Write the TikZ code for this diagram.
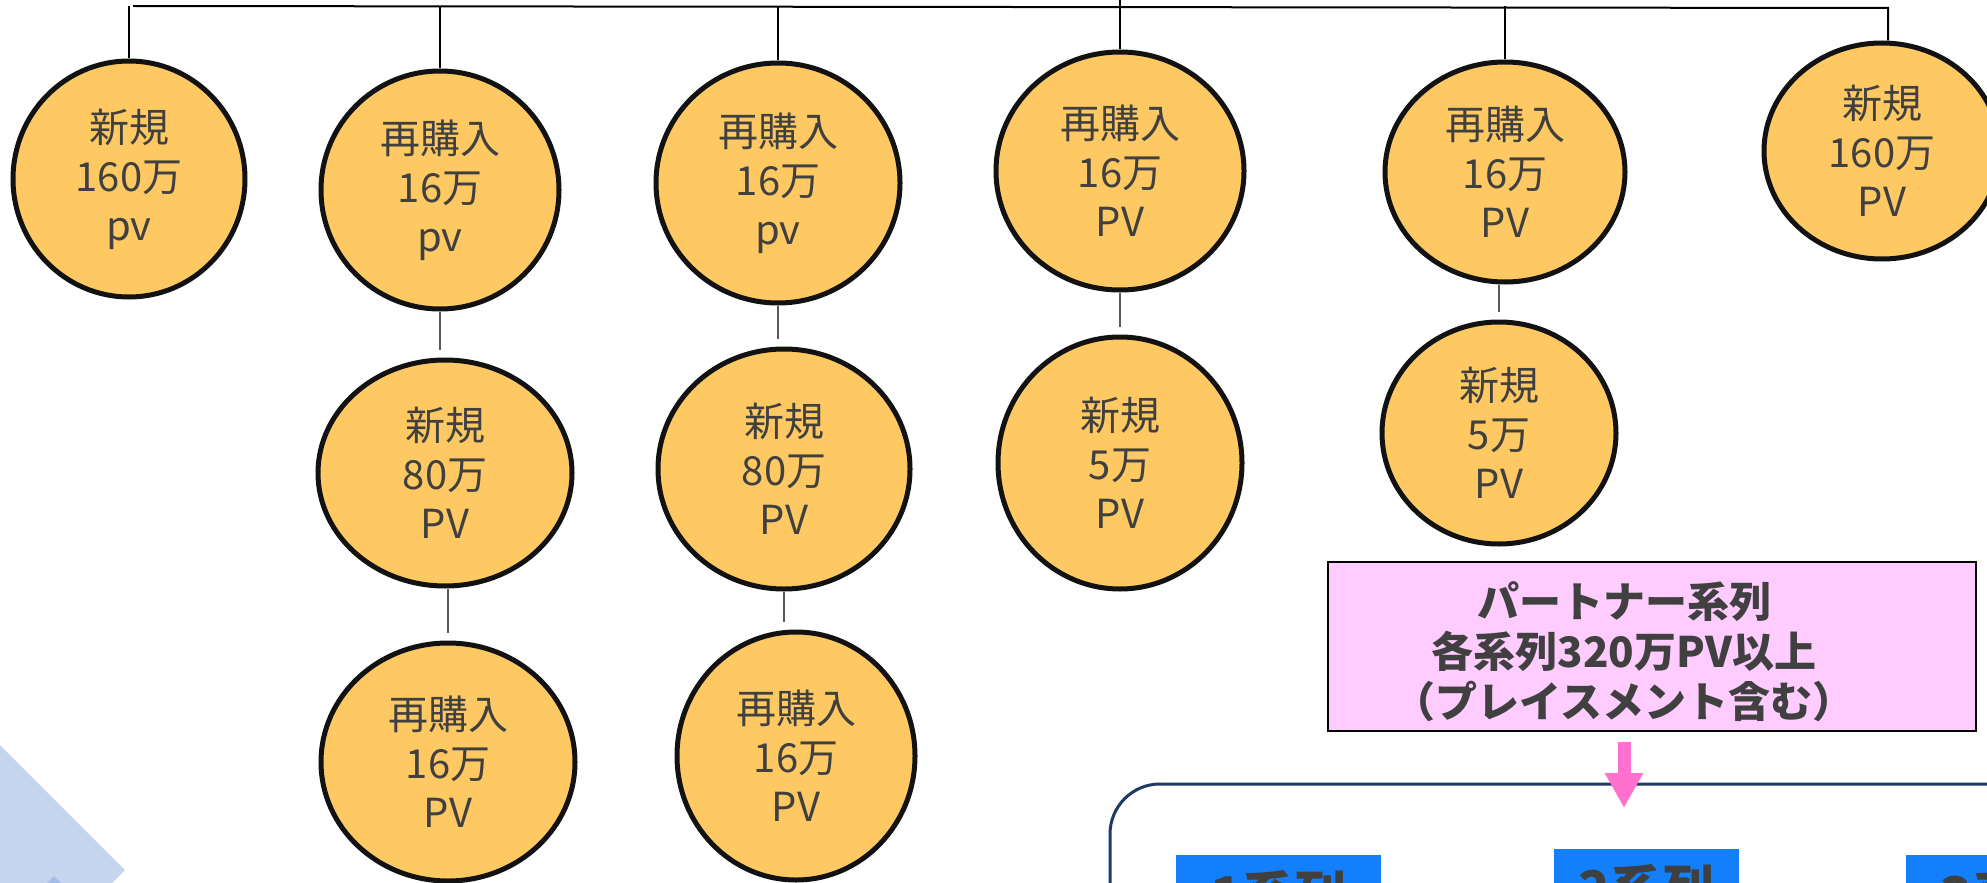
\documentclass[tikz,border=0pt]{standalone}
\usepackage{fontspec}
\newfontfamily\jp{Noto Sans CJK JP}
\usetikzlibrary{shapes.geometric,arrows.meta}
\definecolor{eggfill}{HTML}{FEC962}
\definecolor{txtgray}{HTML}{404040}
\definecolor{pinkfill}{HTML}{FFCCFF}
\definecolor{pinkarrow}{HTML}{FF70CF}
\definecolor{navyline}{HTML}{1F3864}
\definecolor{bluebox}{HTML}{147FFB}
\definecolor{lightblue}{HTML}{C6D5EE}
\definecolor{midblue}{HTML}{A4BDE6}
\begin{document}
\begin{tikzpicture}[x=0.5pt,y=-0.5pt,
  egg/.style={ellipse, draw=black!93, line width=2.5pt, fill=eggfill, inner sep=0pt,
    align=center, text=txtgray, font=\jp\fontsize{20}{24.5}\selectfont},
  bus/.style={draw=black, line width=1pt},
  link/.style={draw=black!65, line width=0.7pt, shorten >=4pt},
  pbox/.style={rectangle, draw=black, line width=1.2pt, fill=pinkfill, inner sep=0pt},
  ptext/.style={align=center, text=txtgray, inner sep=0pt, font=\jp\bfseries\fontsize{21}{25}\selectfont},
  parrow/.style={draw=pinkarrow, line width=6.5pt, shorten <=5pt, -{Triangle[width=18pt,length=17.5pt]}},
  container/.style={rectangle, draw=navyline, line width=1.5pt, rounded corners=25pt, inner sep=0pt},
  bbox/.style={rectangle, fill=bluebox, anchor=north, inner xsep=0pt, inner ysep=7.5pt,
    text=txtgray, font=\jp\bfseries\fontsize{26}{30}\selectfont}
]
\useasboundingbox (0,0) rectangle (1987,883);
\clip (0,0) rectangle (1987,883);

% decorative shape bottom left
\fill[lightblue] (0,745) -- (125,870) -- (112,883) -- (0,883) -- cycle;
\fill[midblue] (47,883) -- (54,876) -- (61,883) -- cycle;

% ellipses
\node[egg, minimum width=116pt, minimum height=118pt] (E1) at (129,179) {新規\\160万\\pv};
\node[egg, minimum width=119pt, minimum height=119pt] (E2) at (440,190) {再購入\\16万\\pv};
\node[egg, minimum width=122pt, minimum height=120pt] (E3) at (778,183) {再購入\\16万\\pv};
\node[egg, minimum width=124pt, minimum height=119pt] (E4) at (1120,171) {再購入\\16万\\PV};
\node[egg, minimum width=120pt, minimum height=110pt] (E5) at (1505,172) {再購入\\16万\\PV};
\node[egg, minimum width=118pt, minimum height=108pt] (E6) at (1882,151) {新規\\160万\\PV};
\node[egg, minimum width=127pt, minimum height=113pt] (E7) at (445,473) {新規\\80万\\PV};
\node[egg, minimum width=126pt, minimum height=120pt] (E8) at (784,469) {新規\\80万\\PV};
\node[egg, minimum width=122pt, minimum height=126pt] (E9) at (1120,463) {新規\\5万\\PV};
\node[egg, minimum width=117pt, minimum height=111pt] (E10) at (1499,433) {新規\\5万\\PV};
\node[egg, minimum width=127pt, minimum height=119pt] (E11) at (448,762) {再購入\\16万\\PV};
\node[egg, minimum width=119pt, minimum height=124pt] (E12) at (796,756) {再購入\\16万\\PV};

% top bus
\coordinate (busL) at (133,6);
\coordinate (busR) at (1888,8);
\coordinate (topedge) at (1115,0);
\draw[bus] (busL) -- (busR) -- (busR |- E6.north);
\draw[bus] (E1.north) -- (E1.north |- busL);
\draw[bus] (E2.north) -- (E2.north |- busL);
\draw[bus] (E3.north) -- (E3.north |- busL);
\draw[bus] (E4.north) -- (E4.north |- topedge);
\draw[bus] (E5.north) -- (E5.north |- busL);

% links between rows (vertical)
\draw[link] (E2.south) -- (E2.south |- E7.north);
\draw[link] (E11.north |- E7.south) -- (E11.north);
\draw[link] (E3.south) -- (E3.south |- E8.north);
\draw[link] (E8.south) -- (E8.south |- E12.north);
\draw[link] (E4.south) -- (E4.south |- E9.north);
\draw[link] (E10.north |- E5.south) -- (E10.north);

% partner box
\node[pbox, minimum width=324pt, minimum height=84.5pt] (pink) at (1652,646.5) {};
\node[ptext] (ptxt) at (1624,652) {パートナー系列\\各系列320万PV以上\\（プレイスメント含む）};

% container
\node[container, minimum width=545pt, minimum height=158pt] (cont) at (1655,942) {};

% arrow
\coordinate (tip) at (1624,808);
\draw[parrow] (ptxt.center |- pink.south) -- (tip);

% series boxes
\node[bbox, minimum width=102.5pt] (s1) at (1278.5,855) {1系列};
\node[bbox, minimum width=92.5pt] (s2) at (1646.5,849) {2系列};
\node[bbox, minimum width=102.5pt] (s3) at (2008.5,855) {3系列};
\end{tikzpicture}
\end{document}
